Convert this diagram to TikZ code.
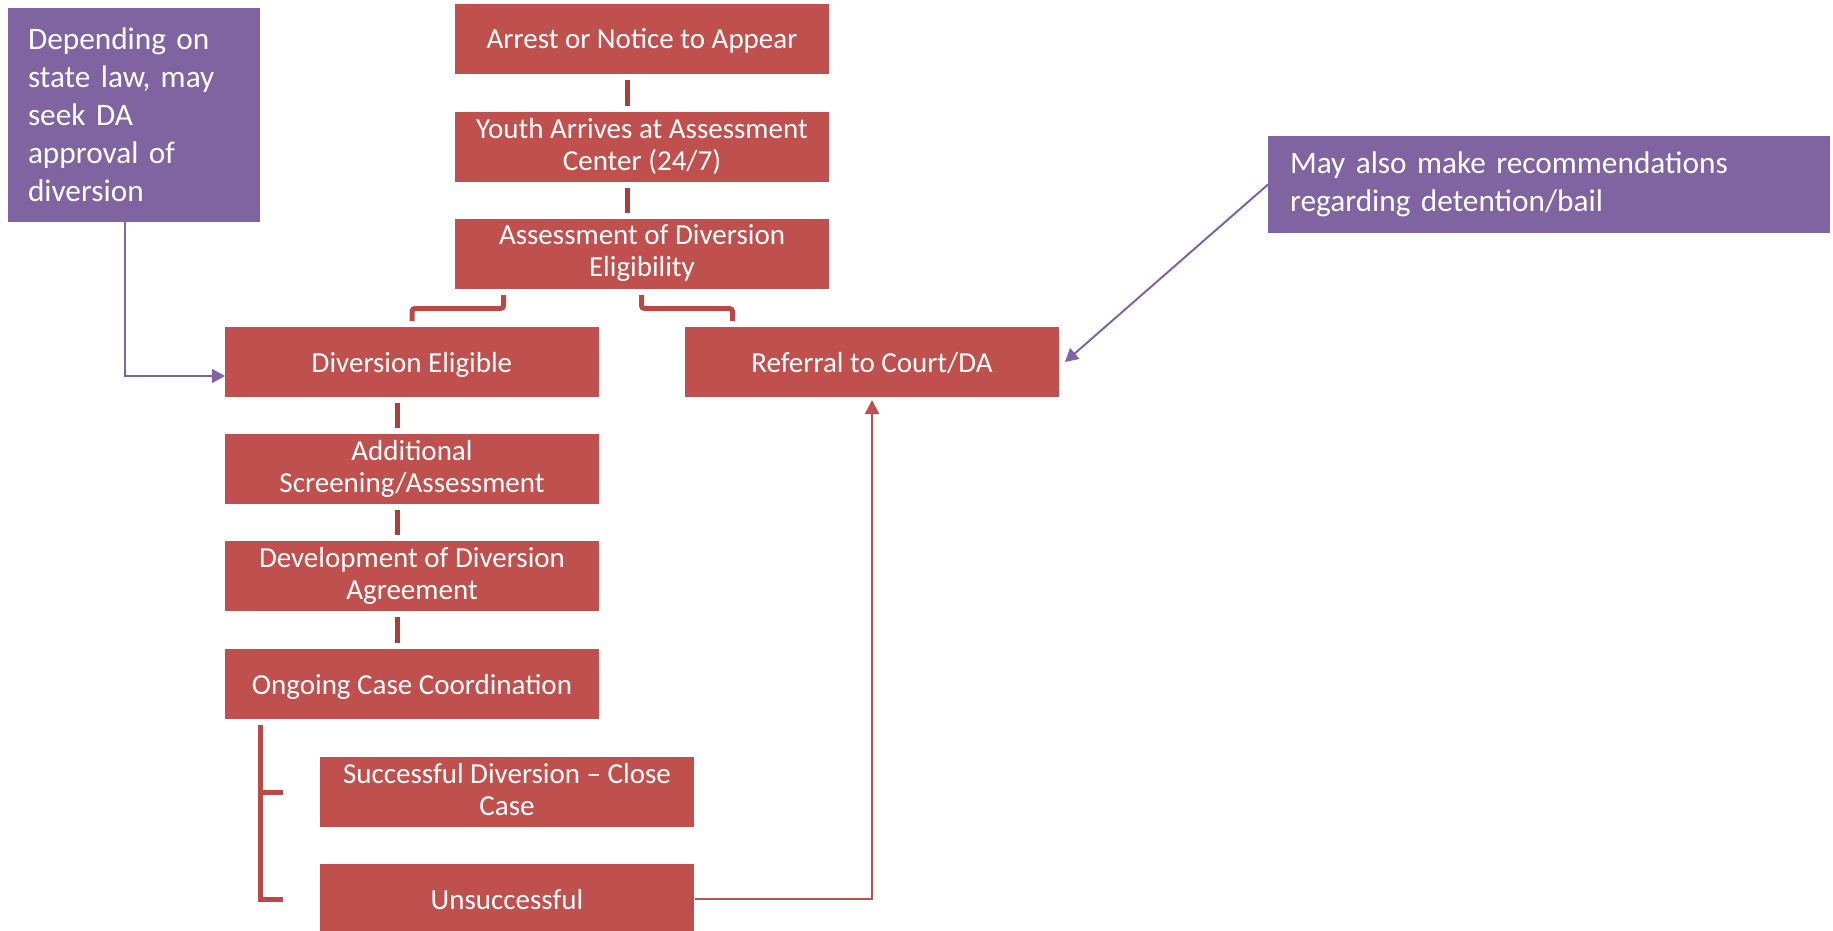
\documentclass[tikz,border=0pt]{standalone}
\usepackage{fontspec}
\setmainfont{Carlito}
\usetikzlibrary{arrows.meta}
\definecolor{boxred}{HTML}{C0504D}
\definecolor{connred}{HTML}{A83F3D}
\definecolor{bracketred}{HTML}{B84946}
\definecolor{notepurple}{HTML}{8064A2}
\newcommand{\boxstrut}{\rule[-6pt]{0pt}{32pt}}
\frenchspacing
\begin{document}
\begin{tikzpicture}[x=1pt,y=-1pt,
  stepbox/.style={rectangle, fill=boxred, text=white, minimum width=374pt, minimum height=70pt,
    inner sep=0pt, outer sep=0pt, align=center, font=\fontsize{29}{32}\selectfont,
    execute at begin node=\boxstrut, execute at end node=\boxstrut},
  notebox/.style={rectangle, fill=notepurple, text=white, inner ysep=0pt, outer sep=0pt,
    align=left, font=\fontsize{31.3}{38}\selectfont},
  conn/.style={draw=connred, line width=5pt},
  bracketline/.style={draw=bracketred, line width=5pt, rounded corners=3pt},
  redarrow/.style={draw=boxred, line width=2pt, -{Triangle[length=14pt,width=14pt]}},
  purplearrow/.style={draw=notepurple, line width=2pt, -{Triangle[length=13pt,width=14pt]}}
]
\useasboundingbox (0,0) rectangle (1833,931);

% main flow boxes
\node[stepbox] (arrest)   at (642,39)  {Arrest or Notice to Appear};
\node[stepbox] (youth)    at (642,147) {Youth Arrives at Assessment\\Center (24/7)};
\node[stepbox] (assess)   at (642,254) {Assessment of Diversion\\Eligibility};
\node[stepbox] (divelig)  at (412,362) {Diversion Eligible};
\node[stepbox] (referral) at (872,362) {Referral to Court/DA};
\node[stepbox] (addl)     at (412,469) {Additional\\Screening/Assessment};
\node[stepbox] (devel)    at (412,576) {Development of Diversion\\Agreement};
\node[stepbox] (ongoing)  at (412,684) {Ongoing Case Coordination};
\node[stepbox] (succ)     at (507,792) {Successful Diversion -- Close\\Case};
\node[stepbox] (unsucc)   at (507,899) {Unsuccessful};

% notes
\node[notebox, text width=212pt, inner xsep=20pt, minimum height=214pt] (note1) at (134,115)
  {Depending on\\state law, may\\seek DA\\approval of\\diversion};
\node[notebox, text width=518pt, inner xsep=22pt, minimum height=97pt] (note2) at (1549,184.5)
  {May also make recommendations\\regarding detention/bail};

% short connectors
\draw[conn] ([xshift=-14.5pt,yshift=-6pt]arrest.south) -- ([xshift=-14.5pt,yshift=6pt]youth.north);
\draw[conn] ([xshift=-14.5pt,yshift=-6pt]youth.south) -- ([xshift=-14.5pt,yshift=6pt]assess.north);
\draw[conn] ([xshift=-15pt,yshift=-6pt]divelig.south) -- ([xshift=-15pt,yshift=6pt]addl.north);
\draw[conn] ([xshift=-15pt,yshift=-6pt]addl.south) -- ([xshift=-15pt,yshift=6pt]devel.north);
\draw[conn] ([xshift=-15pt,yshift=-6pt]devel.south) -- ([xshift=-15pt,yshift=6pt]ongoing.north);

% brackets from assessment
\draw[bracketline] ([xshift=-138.5pt,yshift=-6pt]assess.south) -- ++(0,13.5) -| ([yshift=6pt]divelig.north);
\draw[bracketline] ([xshift=-0.5pt,yshift=-6pt]assess.south) -- ++(0,13.5) -| ([xshift=-139.5pt,yshift=6pt]referral.north);

% bracket from ongoing
\draw[conn, draw=bracketred] ([xshift=-152pt,yshift=-6pt]ongoing.south) |- ([xshift=-37pt]unsucc.west);
\draw[conn, draw=bracketred] ([xshift=-152pt]ongoing.south |- succ.west) -- ([xshift=-37pt]succ.west);

% arrows
\draw[redarrow] ([xshift=1pt]unsucc.east) -| ([yshift=-3pt]referral.south);
\draw[purplearrow] ([xshift=-9pt]note1.south) |- ([yshift=-14pt]divelig.west);
\draw[purplearrow] (note2.west) -- ([xshift=6pt]referral.east);
\end{tikzpicture}
\end{document}
